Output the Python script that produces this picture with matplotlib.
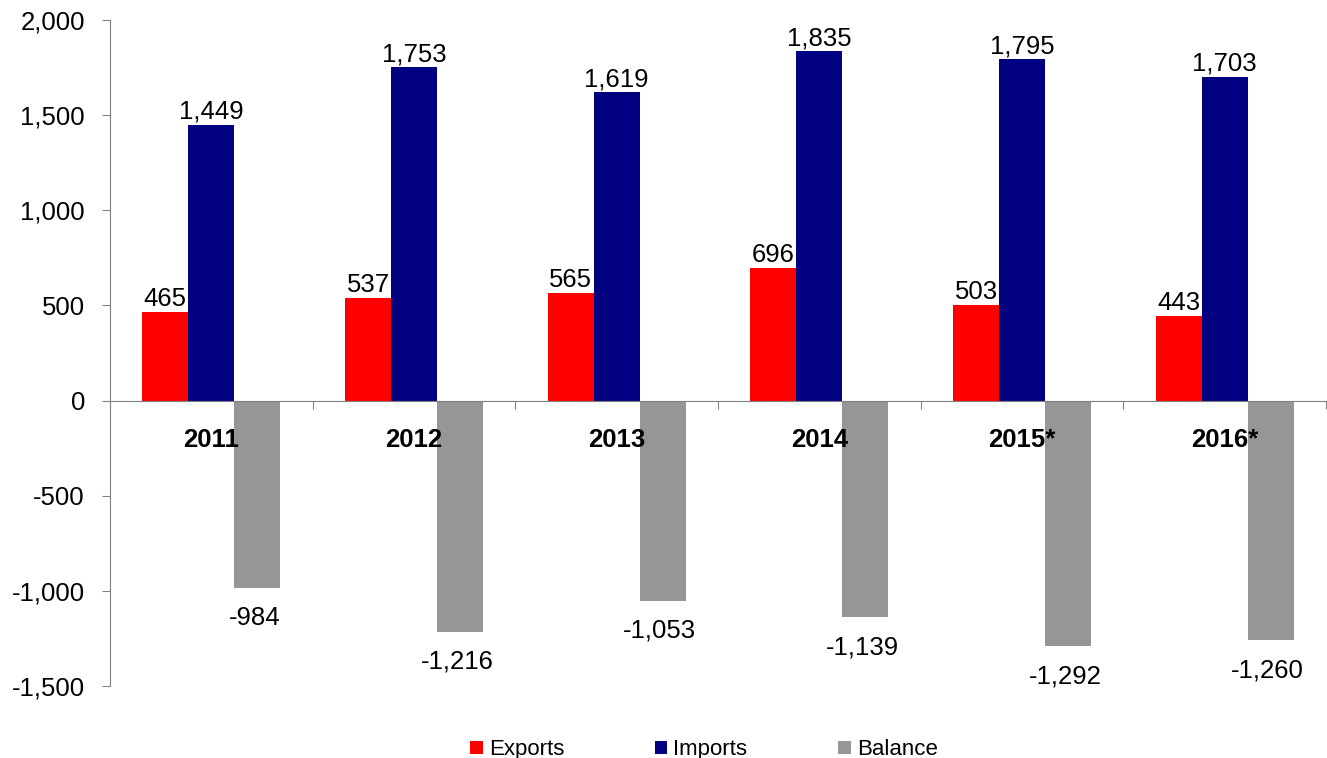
import matplotlib.pyplot as plt
import numpy as np
from matplotlib.ticker import FuncFormatter

plt.rcParams['font.family'] = ['Liberation Sans', 'DejaVu Sans']

# data
years = ['2011', '2012', '2013', '2014', '2015*', '2016*']
exports = [465, 537, 565, 696, 503, 443]
imports = [1449, 1753, 1619, 1835, 1795, 1703]
balance = [-984, -1216, -1053, -1139, -1292, -1260]

fig = plt.figure(figsize=(13.27, 7.58), dpi=100)
ax = fig.add_axes([110 / 1327, 72 / 758, 1216 / 1327, 666 / 758])

x = np.arange(len(years))
w = 0.227
fs = 18.5
b1 = ax.bar(x - w, exports, w, color='#FF0000', label='Exports')
b2 = ax.bar(x, imports, w, color='#000080', label='Imports')
b3 = ax.bar(x + w, balance, w, color='#969696', label='Balance')

fmt = lambda v: f'{v:,}'
for bars, vals in [(b1, exports), (b2, imports)]:
    for r, v in zip(bars, vals):
        ax.annotate(fmt(v), (r.get_x() + r.get_width() / 2, v), xytext=(0, 1),
                    textcoords='offset pixels', ha='center', va='bottom', fontsize=fs)
for r, v in zip(b3, balance):
    ax.annotate(fmt(v), (r.get_x() + r.get_width() / 2, v), xytext=(-3, -18),
                textcoords='offset pixels', ha='center', va='top', fontsize=fs)

# category labels under the zero line
for i, y in enumerate(years):
    ax.annotate(y, (i, 0), xytext=(0, -39), textcoords='offset pixels',
                ha='center', va='center', fontsize=fs, fontweight='bold')

ax.set_xlim(-0.5, len(years) - 0.5)
ax.set_ylim(-1500, 2000)
ax.set_yticks(np.arange(-1500, 2001, 500))
ax.yaxis.set_major_formatter(FuncFormatter(lambda v, p: f'{int(v):,}'))
ax.tick_params(axis='y', labelsize=fs, length=6, color='#808080', pad=12)

ax.spines['top'].set_visible(False)
ax.spines['right'].set_visible(False)
ax.spines['left'].set_color('#808080')
ax.spines['bottom'].set_position(('data', 0))
ax.spines['bottom'].set_color('#808080')
ax.set_xticks(np.arange(0.5, len(years), 1))
ax.tick_params(axis='x', labelbottom=False, length=6, color='#808080', direction='out')

fig.legend(loc='center', bbox_to_anchor=(0.5305, 0.011), ncol=3, frameon=False,
           fontsize=16, handlelength=0.55, handleheight=0.55, handletextpad=0.27,
           columnspacing=4.1)

fig.savefig('out.png', dpi=100)
